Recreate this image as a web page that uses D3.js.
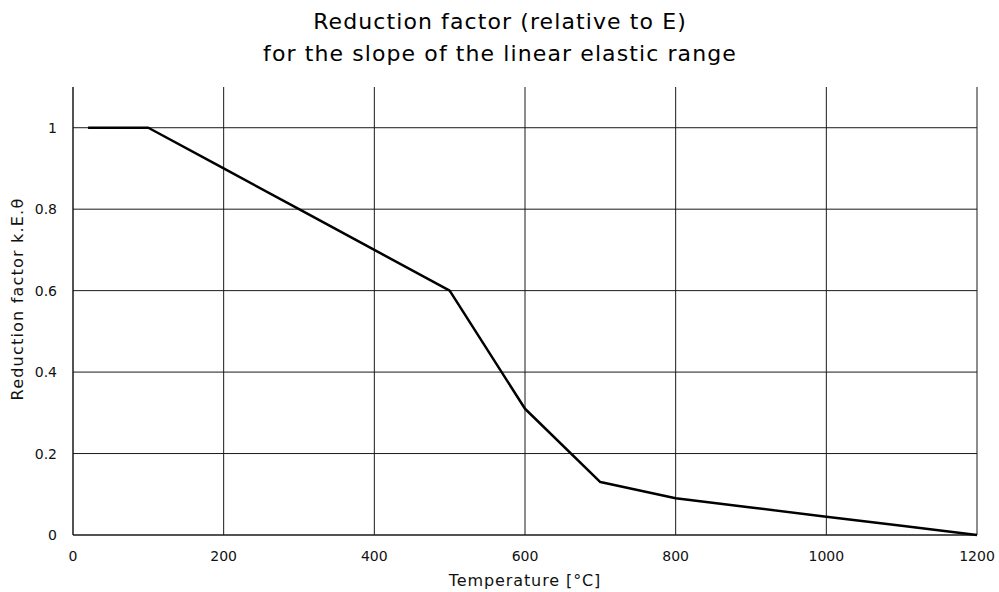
<!DOCTYPE html>
<html><head><meta charset="utf-8">
<script src="https://cdn.jsdelivr.net/npm/d3@7"></script>
<style>body{margin:0;background:#fff;} svg{display:block;font-family:"DejaVu Sans",Verdana,sans-serif;}</style>
</head><body>
<svg id="c" width="999" height="592"></svg>
<script>
const temps = [20, 100, 200, 300, 400, 500, 600, 700, 800, 900, 1000, 1100, 1200];
const kE = [1, 1, 0.9, 0.8, 0.7, 0.6, 0.31, 0.13, 0.09, 0.0675, 0.045, 0.0225, 0];
const xTicks = [0, 200, 400, 600, 800, 1000, 1200];
const yTicks = [0, 0.2, 0.4, 0.6, 0.8, 1];
const titleLines = ["Reduction factor (relative to E)", "for the slope of the linear elastic range"];

const svg = d3.select("#c");
const m = {l: 73, r: 977, t: 87, b: 535};
const x = d3.scaleLinear().domain([0, 1200]).range([m.l, m.r]);
const y = d3.scaleLinear().domain([0, 1.1]).range([m.b, m.t]);

// grid
svg.append("g").selectAll("line").data(xTicks.slice(1)).join("line")
  .attr("x1", d => x(d)).attr("x2", d => x(d)).attr("y1", m.t).attr("y2", m.b)
  .attr("stroke", "#1a1a1a").attr("stroke-width", 1);
svg.append("g").selectAll("line").data(yTicks.slice(1)).join("line")
  .attr("x1", m.l).attr("x2", m.r).attr("y1", d => y(d)).attr("y2", d => y(d))
  .attr("stroke", "#1a1a1a").attr("stroke-width", 1);
// axes lines
svg.append("line").attr("x1", m.l).attr("x2", m.l).attr("y1", m.t).attr("y2", m.b).attr("stroke", "#1a1a1a").attr("stroke-width", 1.5);
svg.append("line").attr("x1", m.l).attr("x2", m.r).attr("y1", m.b).attr("y2", m.b).attr("stroke", "#1a1a1a").attr("stroke-width", 1.5);

// tick labels
svg.append("g").selectAll("text").data(xTicks).join("text")
  .attr("x", d => x(d)).attr("y", 561).attr("text-anchor", "middle")
  .attr("font-size", 14).attr("fill", "#111").text(d => d);
svg.append("g").selectAll("text").data(yTicks).join("text")
  .attr("x", 57).attr("y", d => y(d) + 5).attr("text-anchor", "end")
  .attr("font-size", 14).attr("fill", "#111").text(d => d);

// axis titles
svg.append("text").attr("x", 525).attr("y", 586).attr("text-anchor", "middle")
  .attr("font-size", 16).attr("letter-spacing", 0.9).attr("fill", "#111").text("Temperature [°C]");
svg.append("text").attr("transform", `translate(23,299) rotate(-90)`)
  .attr("text-anchor", "middle").attr("font-size", 16).attr("letter-spacing", 1.2).attr("fill", "#111").text("Reduction factor k.E.θ");

// title
svg.append("g").selectAll("text").data(titleLines).join("text")
  .attr("x", 500).attr("y", (d, i) => 29 + i * 32).attr("text-anchor", "middle")
  .attr("font-size", 22).attr("letter-spacing", 1.1).attr("fill", "#000").text(d => d);

// data line
const line = d3.line().x((d, i) => x(temps[i])).y(d => y(d));
svg.append("path").datum(kE).attr("d", line).attr("fill", "none")
  .attr("stroke", "#000").attr("stroke-width", 2.5).attr("stroke-linejoin", "round");
</script>
</body></html>
